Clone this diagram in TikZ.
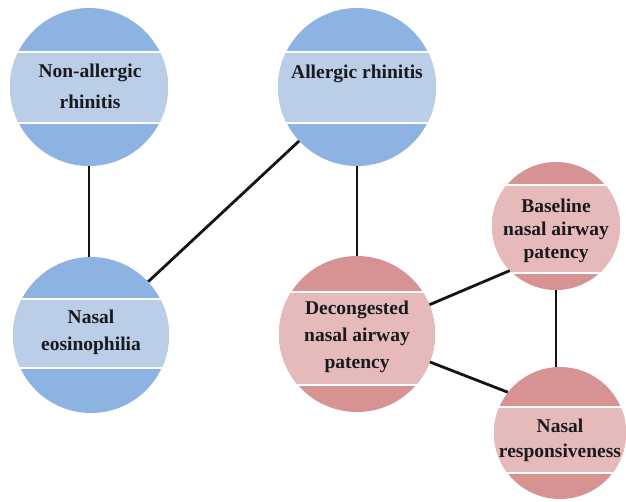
\documentclass[tikz,border=0pt]{standalone}
\usepackage{fontspec}
\setmainfont{Liberation Serif}
\definecolor{bdark}{RGB}{141,179,226}
\definecolor{blight}{RGB}{186,206,232}
\definecolor{rdark}{RGB}{215,146,147}
\definecolor{rlight}{RGB}{230,186,186}
\definecolor{txt}{RGB}{25,25,30}
\newcommand\mkblob[8]{%
  \node[circle, inner sep=0pt, minimum size={2*#4pt}, fill=#7] (#1) at (#2,#3) {};
  \begin{scope}
    \clip (#2,#3) circle (#4pt);
    \fill[#8] (#2-#4-1,#5) rectangle (#2+#4+1,#6);
    \draw[white, line width=1.3pt] (#2-#4-1,#5) -- (#2+#4+1,#5) (#2-#4-1,#6) -- (#2+#4+1,#6);
  \end{scope}}
\begin{document}
\begin{tikzpicture}[x=1pt,y=-1pt,
  conn/.style={line width=2.8pt, black!92},
  lbl/.style={font=\fontsize{19.5}{#1}\selectfont\bfseries, align=center, text=txt, anchor=base, inner sep=0pt}]
\useasboundingbox (0,0) rectangle (626,501);
\clip (0,0) rectangle (626,501);
\mkblob{na}{89}{87}{79}{52}{123}{bdark}{blight}
\mkblob{ar}{357}{87}{79}{52}{123}{bdark}{blight}
\mkblob{ne}{91}{335}{78}{299}{368}{bdark}{blight}
\mkblob{dn}{357}{334}{78}{292}{385}{rdark}{rlight}
\mkblob{bl}{556}{226}{64}{185}{273}{rdark}{rlight}
\mkblob{nr}{560}{433}{66}{407}{473}{rdark}{rlight}
\node[lbl=31] (nat) at (90,108) {Non-allergic\\rhinitis};
\node[lbl=27] (art) at (357,78) {Allergic rhinitis};
\node[lbl=27] (net) at (91,350) {Nasal\\eosinophilia};
\node[lbl=27] (dnt) at (357,368) {Decongested\\nasal airway\\patency};
\node[lbl=23] (blt) at (556,258) {Baseline\\nasal airway\\patency};
\node[lbl=25] (nrt) at (560,457) {Nasal\\responsiveness};
\draw[conn] (na.south) -- (na.south |- ne.north);
\draw[conn] (ne) -- (ar);
\draw[conn] (ar.south) -- (ar.south |- dn.north);
\draw[conn] (dn.22) -- (bl.224);
\draw[conn] (dn.-21) -- (nr.142);
\draw[conn] (bl.south) -- (bl.south |- nr.north);
\end{tikzpicture}
\end{document}
